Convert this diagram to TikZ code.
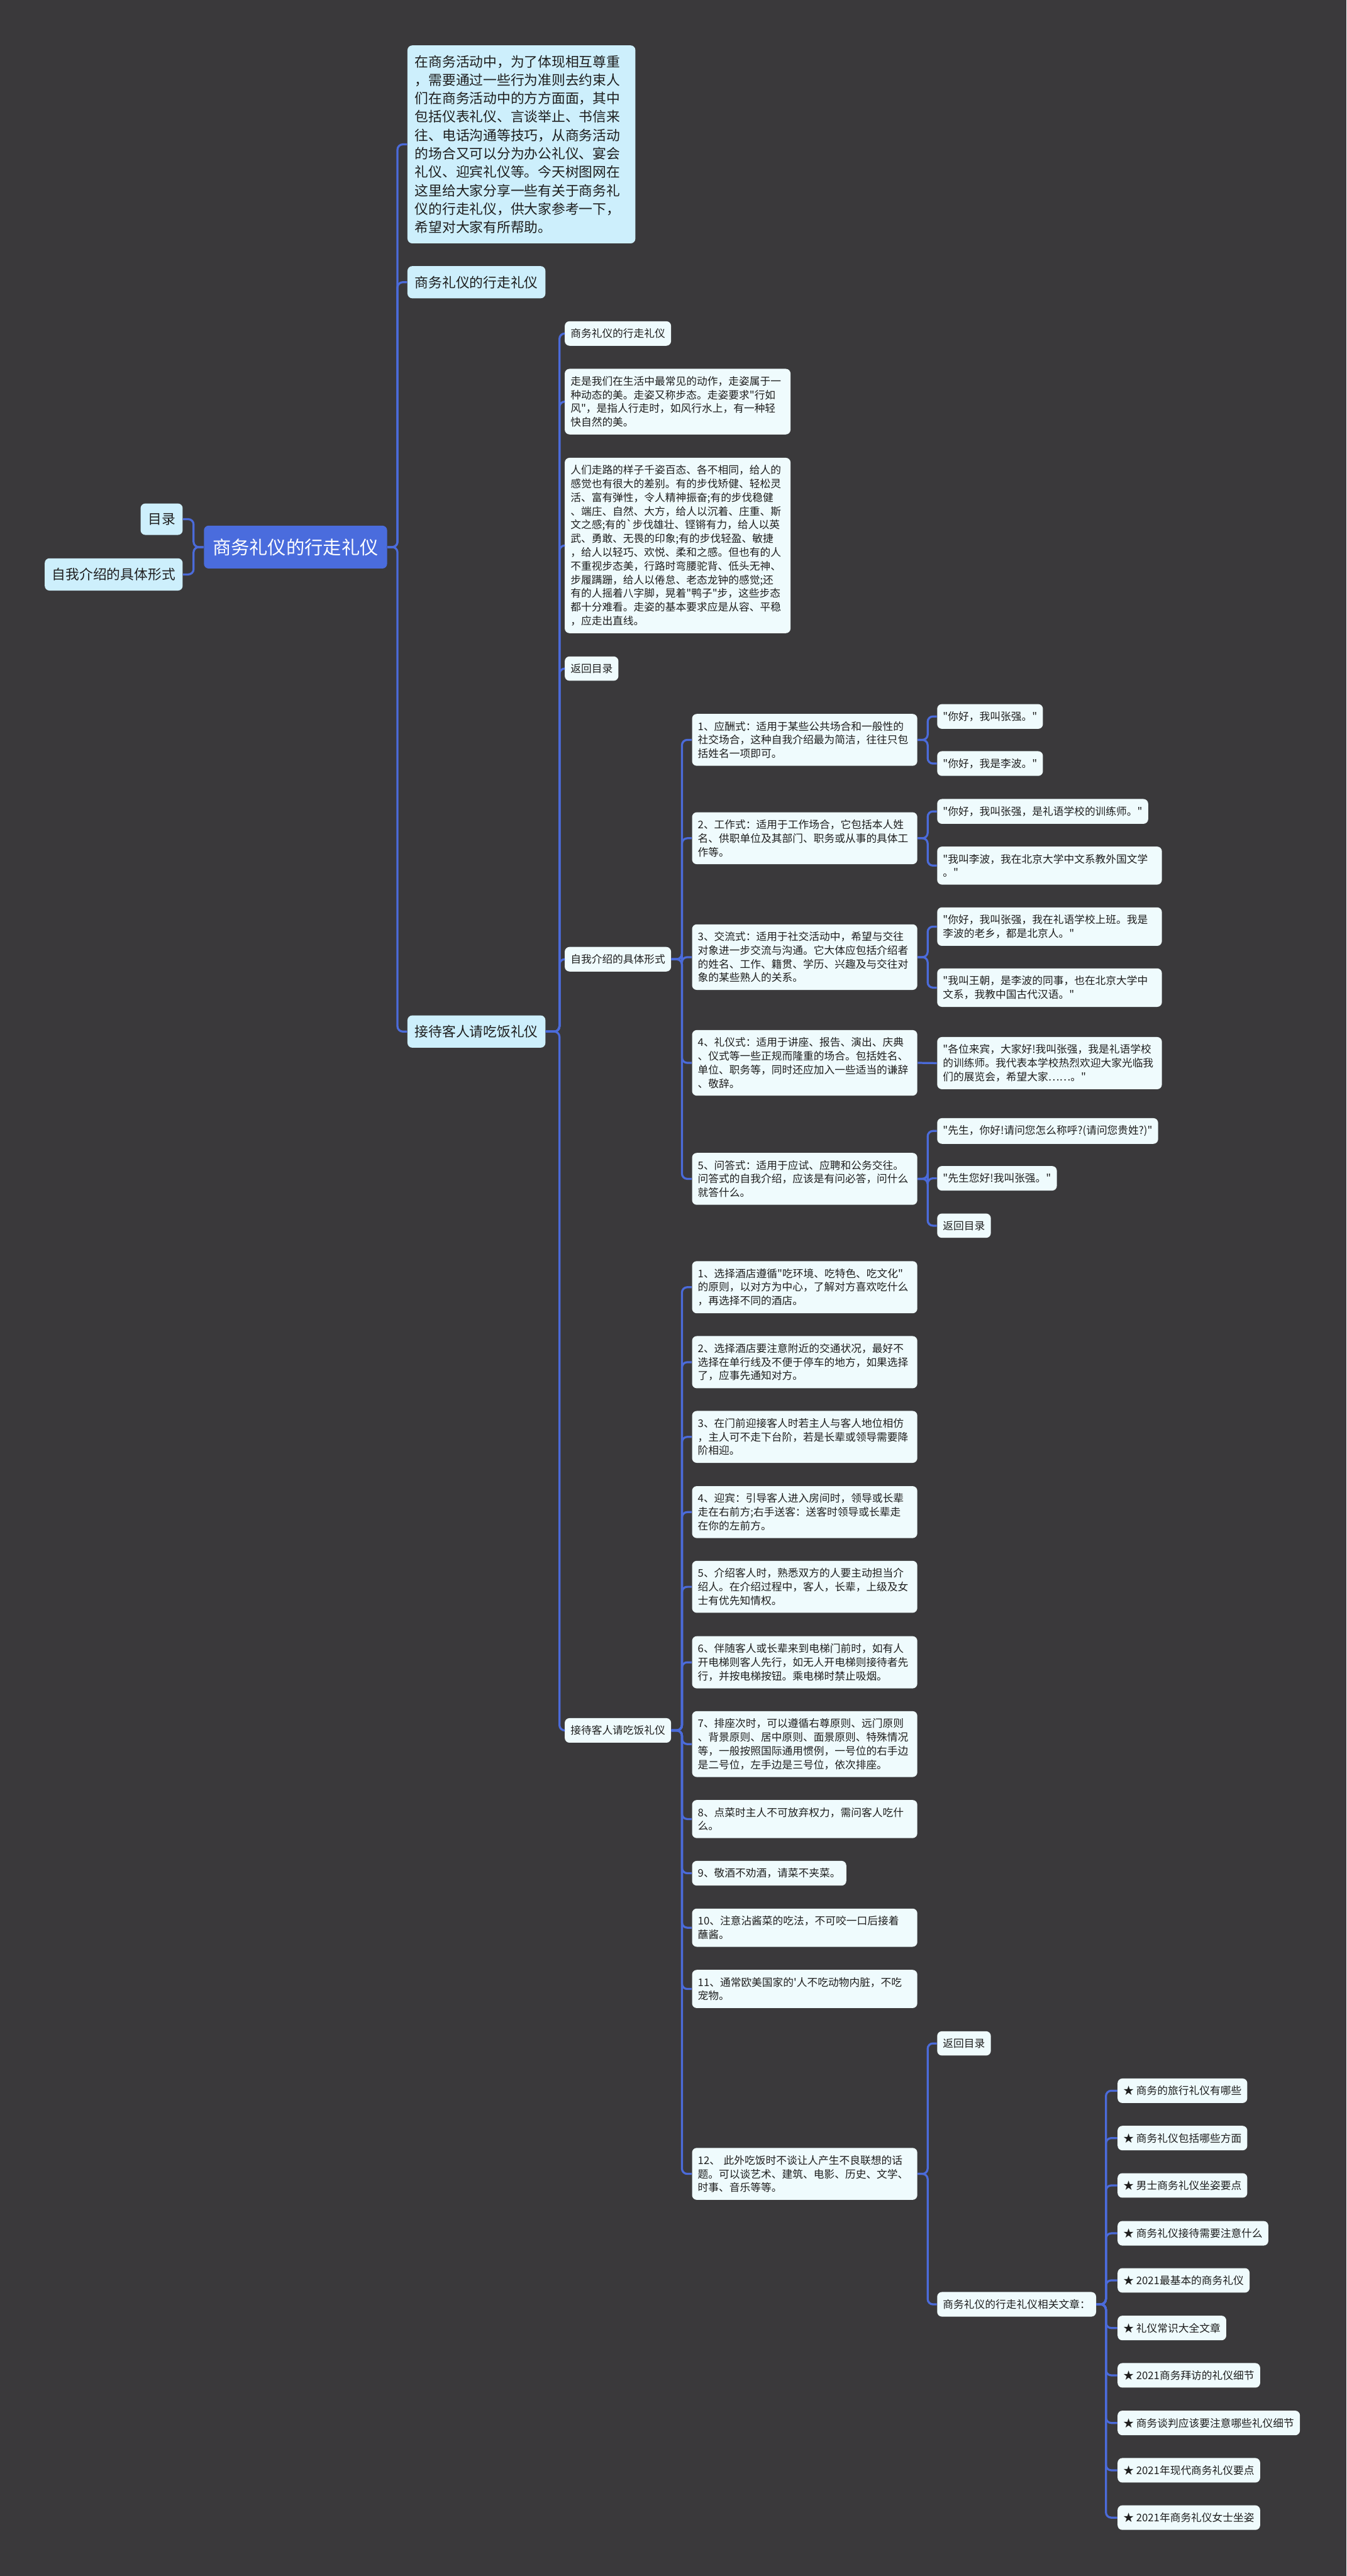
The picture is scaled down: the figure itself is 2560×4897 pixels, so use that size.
\documentclass[tikz,border=0pt]{standalone}
\usepackage{fontspec}
\setmainfont{Noto Sans CJK SC}[Ligatures=TeXOff]
\usepackage{tikz}
\definecolor{bgdark}{HTML}{3A393B}
\definecolor{linkblue}{HTML}{4B6BDA}
\definecolor{topblue}{HTML}{4A6CDD}
\definecolor{mainfill}{HTML}{CDEFFC}
\definecolor{leaffill}{HTML}{EFFBFD}
\definecolor{inktext}{HTML}{1E1E1E}

\begin{document}
\begin{tikzpicture}[x=0.01cm, y=-0.01cm,
    topic/.style={rectangle, fill=topblue, text=white, rounded corners=0.09cm, inner xsep=0.165cm, inner ysep=0.245cm, font=\fontsize{9.96pt}{12pt}\selectfont},
    mainbox/.style={rectangle, fill=mainfill, text=inktext, rounded corners=0.09cm, inner xsep=0.14cm, inner ysep=0.185cm, align=left, font=\fontsize{7.4pt}{9.96pt}\selectfont},
    leaf/.style={rectangle, fill=leaffill, text=inktext, rounded corners=0.09cm, inner xsep=0.11cm, inner ysep=0.14cm, align=left, font=\fontsize{5.69pt}{7.4pt}\selectfont},
    wide/.style={leaf, text width=4.06cm},
    link/.style={draw=linkblue, line width=1.1pt, rounded corners=0.1cm}]
    \fill[bgdark] (0,0) rectangle (2560,4897);

    \node[topic, anchor=west] (root) at (387,1040) {商务礼仪的行走礼仪};
    \node[mainbox, anchor=east] (toc) at (348,987) {目录};
    \node[mainbox, anchor=east] (selfL) at (348,1092) {自我介绍的具体形式};
    \node[mainbox, anchor=west, text width=4.05cm] (intro) at (774,274.5) {在商务活动中，为了体现相互尊重\\
，需要通过一些行为准则去约束人\\
们在商务活动中的方方面面，其中\\
包括仪表礼仪、言谈举止、书信来\\
往、电话沟通等技巧，从商务活动\\
的场合又可以分为办公礼仪、宴会\\
礼仪、迎宾礼仪等。今天树图网在\\
这里给大家分享一些有关于商务礼\\
仪的行走礼仪，供大家参考一下，\\
希望对大家有所帮助。};
    \node[mainbox, anchor=west] (walk) at (774,536.5) {商务礼仪的行走礼仪};
    \node[mainbox, anchor=west] (dine) at (774,1961) {接待客人请吃饭礼仪};

    \node[leaf, anchor=west] (walkS) at (1073,634) {商务礼仪的行走礼仪};
    \node[leaf, anchor=west, text width=4.07cm] (walkA) at (1073,763.5) {走是我们在生活中最常见的动作，走姿属于一\\
种动态的美。走姿又称步态。走姿要求"行如\\
风"，是指人行走时，如风行水上，有一种轻\\
快自然的美。};
    \node[leaf, anchor=west, text width=4.07cm] (walkB) at (1073,1037) {人们走路的样子千姿百态、各不相同，给人的\\
感觉也有很大的差别。有的步伐矫健、轻松灵\\
活、富有弹性，令人精神振奋;有的步伐稳健\\
、端庄、自然、大方，给人以沉着、庄重、斯\\
文之感;有的`步伐雄壮、铿锵有力，给人以英\\
武、勇敢、无畏的印象;有的步伐轻盈、敏捷\\
，给人以轻巧、欢悦、柔和之感。但也有的人\\
不重视步态美，行路时弯腰驼背、低头无神、\\
步履蹒跚，给人以倦怠、老态龙钟的感觉;还\\
有的人摇着八字脚，晃着"鸭子"步，这些步态\\
都十分难看。走姿的基本要求应是从容、平稳\\
，应走出直线。};
    \node[leaf, anchor=west] (back1) at (1073,1271) {返回目录};
    \node[leaf, anchor=west] (self) at (1073,1823.5) {自我介绍的具体形式};
    \node[leaf, anchor=west] (meal) at (1073,3289.5) {接待客人请吃饭礼仪};

    \node[wide, anchor=west] (s1) at (1315,1406.5) {1、应酬式：适用于某些公共场合和一般性的\\
社交场合，这种自我介绍最为简洁，往往只包\\
括姓名一项即可。};
    \node[wide, anchor=west] (s2) at (1315,1593.5) {2、工作式：适用于工作场合，它包括本人姓\\
名、供职单位及其部门、职务或从事的具体工\\
作等。};
    \node[wide, anchor=west] (s3) at (1315,1819.5) {3、交流式：适用于社交活动中，希望与交往\\
对象进一步交流与沟通。它大体应包括介绍者\\
的姓名、工作、籍贯、学历、兴趣及与交往对\\
象的某些熟人的关系。};
    \node[wide, anchor=west] (s4) at (1315,2020.5) {4、礼仪式：适用于讲座、报告、演出、庆典\\
、仪式等一些正规而隆重的场合。包括姓名、\\
单位、职务等，同时还应加入一些适当的谦辞\\
、敬辞。};
    \node[wide, anchor=west] (s5) at (1315,2241) {5、问答式：适用于应试、应聘和公务交往。\\
问答式的自我介绍，应该是有问必答，问什么\\
就答什么。};

    \node[leaf, anchor=west] (s1a) at (1781,1362) {"你好，我叫张强。"};
    \node[leaf, anchor=west] (s1b) at (1781,1451.5) {"你好，我是李波。"};
    \node[leaf, anchor=west] (s2a) at (1781,1542.5) {"你好，我叫张强，是礼语学校的训练师。"};
    \node[leaf, anchor=west, text width=4.05cm] (s2b) at (1781,1645.5) {"我叫李波，我在北京大学中文系教外国文学\\
。"};
    \node[leaf, anchor=west, text width=4.05cm] (s3a) at (1781,1761.5) {"你好，我叫张强，我在礼语学校上班。我是\\
李波的老乡，都是北京人。"};
    \node[leaf, anchor=west, text width=4.05cm] (s3b) at (1781,1877.5) {"我叫王朝，是李波的同事，也在北京大学中\\
文系，我教中国古代汉语。"};
    \node[leaf, anchor=west, text width=4.05cm] (s4a) at (1781,2021) {"各位来宾，大家好!我叫张强，我是礼语学校\\
的训练师。我代表本学校热烈欢迎大家光临我\\
们的展览会，希望大家……。"};
    \node[leaf, anchor=west] (s5a) at (1781,2150) {"先生，你好!请问您怎么称呼?(请问您贵姓?)"};
    \node[leaf, anchor=west] (s5b) at (1781,2240) {"先生您好!我叫张强。"};
    \node[leaf, anchor=west] (back2) at (1781,2330) {返回目录};

    \node[wide, anchor=west] (m1) at (1315,2447) {1、选择酒店遵循"吃环境、吃特色、吃文化"\\
的原则，以对方为中心，了解对方喜欢吃什么\\
，再选择不同的酒店。};
    \node[wide, anchor=west] (m2) at (1315,2589.5) {2、选择酒店要注意附近的交通状况，最好不\\
选择在单行线及不便于停车的地方，如果选择\\
了，应事先通知对方。};
    \node[wide, anchor=west] (m3) at (1315,2731.5) {3、在门前迎接客人时若主人与客人地位相仿\\
，主人可不走下台阶，若是长辈或领导需要降\\
阶相迎。};
    \node[wide, anchor=west] (m4) at (1315,2874.5) {4、迎宾：引导客人进入房间时，领导或长辈\\
走在右前方;右手送客：送客时领导或长辈走\\
在你的左前方。};
    \node[wide, anchor=west] (m5) at (1315,3016.5) {5、介绍客人时，熟悉双方的人要主动担当介\\
绍人。在介绍过程中，客人，长辈，上级及女\\
士有优先知情权。};
    \node[wide, anchor=west] (m6) at (1315,3160) {6、伴随客人或长辈来到电梯门前时，如有人\\
开电梯则客人先行，如无人开电梯则接待者先\\
行，并按电梯按钮。乘电梯时禁止吸烟。};
    \node[wide, anchor=west] (m7) at (1315,3315.5) {7、排座次时，可以遵循右尊原则、远门原则\\
、背景原则、居中原则、面景原则、特殊情况\\
等，一般按照国际通用惯例，一号位的右手边\\
是二号位，左手边是三号位，依次排座。};
    \node[wide, anchor=west] (m8) at (1315,3458) {8、点菜时主人不可放弃权力，需问客人吃什\\
么。};
    \node[leaf, anchor=west] (m9) at (1315,3561) {9、敬酒不劝酒，请菜不夹菜。};
    \node[wide, anchor=west] (m10) at (1315,3664.5) {10、注意沾酱菜的吃法，不可咬一口后接着\\
蘸酱。};
    \node[wide, anchor=west] (m11) at (1315,3781) {11、通常欧美国家的'人不吃动物内脏，不吃\\
宠物。};
    \node[wide, anchor=west] (m12) at (1315,4132.5) {12、 此外吃饭时不谈让人产生不良联想的话\\
题。可以谈艺术、建筑、电影、历史、文学、\\
时事、音乐等等。};

    \node[leaf, anchor=west] (back3) at (1781,3884.5) {返回目录};
    \node[leaf, anchor=west] (more) at (1781,4380.5) {商务礼仪的行走礼仪相关文章：};

    \node[leaf, anchor=west] (r1) at (2124,3974.5) {★ 商务的旅行礼仪有哪些};
    \node[leaf, anchor=west] (r2) at (2124,4064.5) {★ 商务礼仪包括哪些方面};
    \node[leaf, anchor=west] (r3) at (2124,4154.5) {★ 男士商务礼仪坐姿要点};
    \node[leaf, anchor=west] (r4) at (2124,4245.5) {★ 商务礼仪接待需要注意什么};
    \node[leaf, anchor=west] (r5) at (2124,4335) {★ 2021最基本的商务礼仪};
    \node[leaf, anchor=west] (r6) at (2124,4425.5) {★ 礼仪常识大全文章};
    \node[leaf, anchor=west] (r7) at (2124,4515.5) {★ 2021商务拜访的礼仪细节};
    \node[leaf, anchor=west] (r8) at (2124,4606) {★ 商务谈判应该要注意哪些礼仪细节};
    \node[leaf, anchor=west] (r9) at (2124,4696) {★ 2021年现代商务礼仪要点};
    \node[leaf, anchor=west] (r10) at (2124,4786) {★ 2021年商务礼仪女士坐姿};

    \draw[link] (root.west) -- ++(-19,0) |- (toc.east);
    \draw[link] (root.west) -- ++(-19,0) |- (selfL.east);
    \draw[link] (root.east) -- ++(19,0) |- (intro.west);
    \draw[link] (root.east) -- ++(19,0) |- (walk.west);
    \draw[link] (root.east) -- ++(19,0) |- (dine.west);

    \draw[link] (dine.east) -- ++(26,0) |- (walkS.west);
    \draw[link] (dine.east) -- ++(26,0) |- (walkA.west);
    \draw[link] (dine.east) -- ++(26,0) |- (walkB.west);
    \draw[link] (dine.east) -- ++(26,0) |- (back1.west);
    \draw[link] (dine.east) -- ++(26,0) |- (self.west);
    \draw[link] (dine.east) -- ++(26,0) |- (meal.west);

    \draw[link] (self.east) -- ++(20,0) |- (s1.west);
    \draw[link] (self.east) -- ++(20,0) |- (s2.west);
    \draw[link] (self.east) -- ++(20,0) |- (s3.west);
    \draw[link] (self.east) -- ++(20,0) |- (s4.west);
    \draw[link] (self.east) -- ++(20,0) |- (s5.west);

    \draw[link] (s1.east) -- ++(19,0) |- (s1a.west);
    \draw[link] (s1.east) -- ++(19,0) |- (s1b.west);
    \draw[link] (s2.east) -- ++(19,0) |- (s2a.west);
    \draw[link] (s2.east) -- ++(19,0) |- (s2b.west);
    \draw[link] (s3.east) -- ++(19,0) |- (s3a.west);
    \draw[link] (s3.east) -- ++(19,0) |- (s3b.west);
    \draw[link] (s4.east) -- (s4a.west);
    \draw[link] (s5.east) -- ++(19,0) |- (s5a.west);
    \draw[link] (s5.east) -- ++(19,0) |- (s5b.west);
    \draw[link] (s5.east) -- ++(19,0) |- (back2.west);

    \draw[link] (meal.east) -- ++(20,0) |- (m1.west);
    \draw[link] (meal.east) -- ++(20,0) |- (m2.west);
    \draw[link] (meal.east) -- ++(20,0) |- (m3.west);
    \draw[link] (meal.east) -- ++(20,0) |- (m4.west);
    \draw[link] (meal.east) -- ++(20,0) |- (m5.west);
    \draw[link] (meal.east) -- ++(20,0) |- (m6.west);
    \draw[link] (meal.east) -- ++(20,0) |- (m7.west);
    \draw[link] (meal.east) -- ++(20,0) |- (m8.west);
    \draw[link] (meal.east) -- ++(20,0) |- (m9.west);
    \draw[link] (meal.east) -- ++(20,0) |- (m10.west);
    \draw[link] (meal.east) -- ++(20,0) |- (m11.west);
    \draw[link] (meal.east) -- ++(20,0) |- (m12.west);

    \draw[link] (m12.east) -- ++(19,0) |- (back3.west);
    \draw[link] (m12.east) -- ++(19,0) |- (more.west);

    \draw[link] (more.east) -- ++(18,0) |- (r1.west);
    \draw[link] (more.east) -- ++(18,0) |- (r2.west);
    \draw[link] (more.east) -- ++(18,0) |- (r3.west);
    \draw[link] (more.east) -- ++(18,0) |- (r4.west);
    \draw[link] (more.east) -- ++(18,0) |- (r5.west);
    \draw[link] (more.east) -- ++(18,0) |- (r6.west);
    \draw[link] (more.east) -- ++(18,0) |- (r7.west);
    \draw[link] (more.east) -- ++(18,0) |- (r8.west);
    \draw[link] (more.east) -- ++(18,0) |- (r9.west);
    \draw[link] (more.east) -- ++(18,0) |- (r10.west);
\end{tikzpicture}
\end{document}
